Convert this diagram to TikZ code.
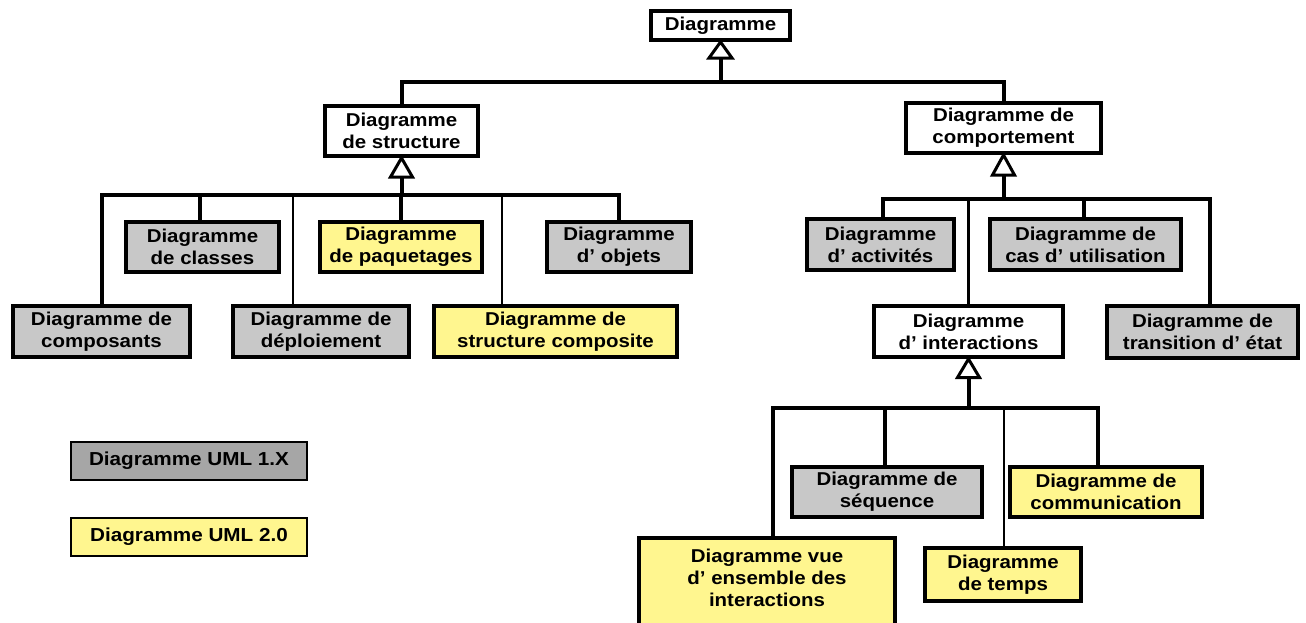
\documentclass[tikz,border=0pt]{standalone}
\usepackage{fontspec}
\setmainfont{Liberation Sans}[FakeStretch=1.1]
\usetikzlibrary{calc}
\definecolor{boxgray}{RGB}{200,200,200}
\definecolor{leggray}{RGB}{166,166,166}
\definecolor{boxyellow}{RGB}{255,246,143}
\begin{document}
\begin{tikzpicture}[x=1pt,y=-1pt,
  box/.style={draw, line width=4pt, inner sep=0pt, align=center, line join=miter,
    font=\bfseries\fontsize{18.6}{21.7}\selectfont},
  whitebox/.style={box, fill=white},
  graybox/.style={box, fill=boxgray},
  yelbox/.style={box, fill=boxyellow},
  legbox/.style={draw, line width=2pt, inner sep=0pt, minimum width=236pt, minimum height=38pt,
    font=\bfseries\fontsize{18.8}{21}\selectfont},
  conn/.style={line width=4pt, line join=miter},
  midconn/.style={line width=3pt, line join=miter},
  thinconn/.style={line width=2pt, line join=miter},
  gen/.style={draw, fill=white, line width=3pt, line join=miter}
]
\useasboundingbox (0,0) rectangle (1306,622);
\fill[white] (0,0) rectangle (1306,622);
\clip (0,0) rectangle (1306,622);

% level 0 and 1
\node[whitebox, minimum width=139pt, minimum height=29pt] (top) at (720.5,25.5) {Diagramme};
\node[whitebox, minimum width=153pt, minimum height=50pt] (struct) at (401.5,131) {Diagramme\\de structure};
\node[whitebox, minimum width=195pt, minimum height=50pt] (behav) at (1003.5,128) {Diagramme de\\comportement};

% structure children
\node[graybox, minimum width=153pt, minimum height=50pt] (classes) at (202.5,247) {Diagramme\\de classes};
\node[yelbox, minimum width=162pt, minimum height=50pt] (paquet) at (401,247) {Diagramme\\de paquetages};
\node[graybox, minimum width=144pt, minimum height=50pt] (objets) at (619,247) {Diagramme\\d’ objets};
\node[graybox, minimum width=177pt, minimum height=51pt] (compo) at (101.5,331.5) {Diagramme de\\composants};
\node[graybox, minimum width=176pt, minimum height=51pt] (deploi) at (321,331.5) {Diagramme de\\déploiement};
\node[yelbox, minimum width=243pt, minimum height=51pt] (compos) at (555.5,331.5) {Diagramme de\\structure composite};

% behaviour children
\node[graybox, minimum width=147pt, minimum height=51pt] (activ) at (880.5,244.5) {Diagramme\\d’ activités};
\node[graybox, minimum width=191pt, minimum height=51pt] (cas) at (1085.5,244.5) {Diagramme de\\cas d’ utilisation};
\node[whitebox, minimum width=189pt, minimum height=51pt] (inter) at (968.5,331.5) {Diagramme\\d’ interactions};
\node[graybox, minimum width=191pt, minimum height=52pt] (trans) at (1202.5,332) {Diagramme de\\transition d’ état};

% interaction children
\node[graybox, minimum width=190pt, minimum height=50pt] (seq) at (887,492) {Diagramme de\\séquence};
\node[yelbox, minimum width=192pt, minimum height=50pt] (comm) at (1106,492) {Diagramme de\\communication};
\node[yelbox, minimum width=256pt, minimum height=92pt] (vue) at (767,584) {};
\node[align=center, inner sep=0pt, font=\bfseries\fontsize{18.6}{22.3}\selectfont] (vuetext) at (767,578) {Diagramme vue\\d’ ensemble des\\interactions};
\node[yelbox, minimum width=156pt, minimum height=53pt] (temps) at (1003,574.5) {Diagramme\\de temps};

% legend
\node[legbox, fill=leggray] (leg1) at (189,461) {Diagramme UML 1.X};
\node[legbox, fill=boxyellow] (leg2) at (189,537) {Diagramme UML 2.0};

% connectors: top
\coordinate (b0) at (720.5,82);
\draw[conn] ($(top.south)+(0,16)$) -- (b0);
\draw[conn] (struct.north) |- (b0) -| (behav.north);
\draw[gen] (top.south) -- ++(-11.5,16) -- ++(23,0) -- cycle;

% structure
\coordinate (b1) at (401.5,195);
\draw[conn] ($(struct.south)+(0,19)$) -- (b1);
\draw[conn] (compo.north) |- (b1) -| (objets.north);
\draw[conn] (paquet.north) -- (paquet.north |- b1);
\draw[conn] ([xshift=-2.5pt]classes.north) |- (b1);
\draw[thinconn] ([xshift=-28pt]deploi.north) |- (b1);
\draw[thinconn] ([xshift=-53.5pt]compos.north) |- (b1);
\draw[gen] (struct.south) -- ++(-11,19) -- ++(22,0) -- cycle;

% behaviour
\coordinate (b2) at (1003.5,199);
\draw[conn] ($(behav.south)+(0,20)$) -- (b2);
\draw[conn] ([xshift=2.5pt]activ.north) |- (b2) -| ([xshift=7.5pt]trans.north);
\draw[conn] ([xshift=-1.5pt]cas.north) |- (b2);
\draw[midconn] (inter.north) |- (b2);
\draw[gen] (behav.south) -- ++(-11,20) -- ++(22,0) -- cycle;

% interactions
\coordinate (b3) at (968.5,408);
\draw[conn] ($(inter.south)+(0,18.5)$) -- (b3);
\draw[conn] ([xshift=6pt]vue.north) |- (b3) -| ([xshift=-8pt]comm.north);
\draw[conn] ([xshift=-2pt]seq.north) |- (b3);
\draw[thinconn] ([xshift=1pt]temps.north) |- (b3);
\draw[gen] (inter.south) -- ++(-11,18.5) -- ++(22,0) -- cycle;
\end{tikzpicture}
\end{document}
